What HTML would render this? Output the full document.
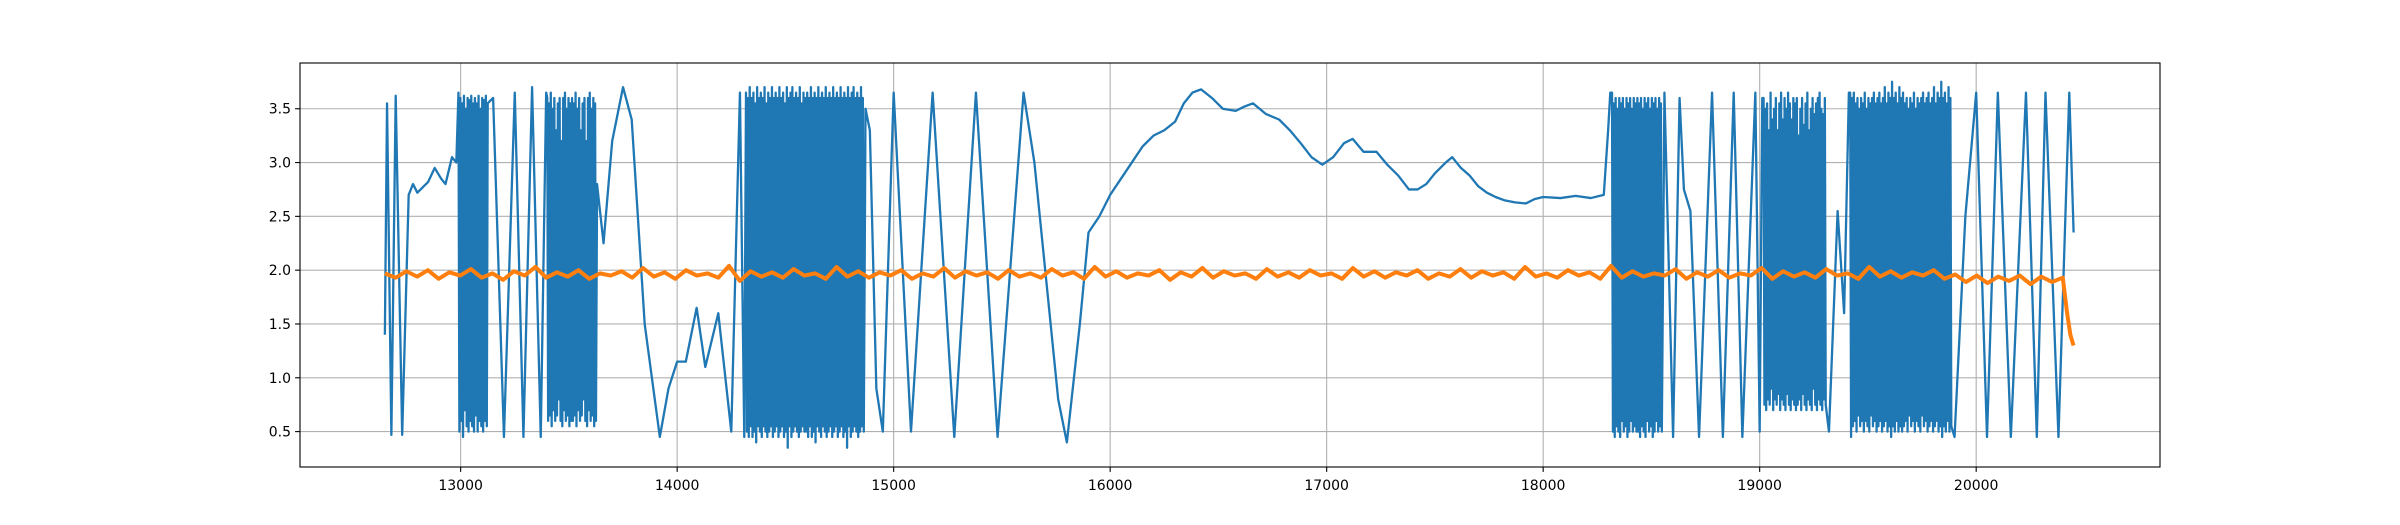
<!DOCTYPE html>
<html><head><meta charset="utf-8">
<style>
html,body{margin:0;padding:0;background:#fff;}
svg{display:block;}
text{font-family:"DejaVu Sans","Liberation Sans",sans-serif;font-size:14px;fill:#000;}
</style></head>
<body>
<svg id="chart" width="2400" height="525" viewBox="0 0 2400 525" xmlns="http://www.w3.org/2000/svg">
<rect x="0" y="0" width="2400" height="525" fill="#fff"/>
<g id="grid"></g>
<g id="series"></g>
<rect x="300" y="63" width="1860" height="404" fill="none" stroke="#000" stroke-width="1.1"/>
<g id="axes"></g>
</svg>
<script>
const xTicks = [13000,14000,15000,16000,17000,18000,19000,20000];
const xTickLabels = ["13000","14000","15000","16000","17000","18000","19000","20000"];
const yTicks = [0.5,1.0,1.5,2.0,2.5,3.0,3.5];
const yTickLabels = ["0.5","1.0","1.5","2.0","2.5","3.0","3.5"];

const blueSparse = [
[12650,1.4],[12660,3.55],[12680,0.47],[12700,3.62],[12730,0.47],[12760,2.7],[12780,2.8],[12800,2.72],[12830,2.78],[12850,2.82],[12880,2.95],[12910,2.85],[12930,2.8],[12960,3.05],[12980,3.0],
[13150,3.6],[13200,0.45],[13250,3.65],[13290,0.45],[13330,3.7],[13370,0.45],[13395,3.65],
[13630,2.8],[13660,2.25],[13700,3.2],[13750,3.7],[13790,3.4],[13850,1.5],[13920,0.45],[13960,0.9],[14000,1.15],[14040,1.15],[14090,1.65],[14130,1.1],[14190,1.6],[14250,0.5],[14290,3.65],[14310,0.45],
[14870,3.5],[14890,3.3],[14920,0.9],[14950,0.5],[15000,3.65],[15080,0.5],[15180,3.65],[15280,0.45],[15380,3.65],[15480,0.45],[15600,3.65],[15650,3.0],[15700,2.0],[15760,0.8],[15800,0.4],[15860,1.5],[15900,2.35],[15950,2.5],[16000,2.7],[16050,2.85],[16100,3.0],[16150,3.15],[16200,3.25],[16250,3.3],[16300,3.38],[16340,3.55],[16380,3.65],[16420,3.68],[16470,3.6],[16520,3.5],[16580,3.48],[16620,3.52],[16660,3.55],[16720,3.45],[16780,3.4],[16830,3.3],[16880,3.18],[16930,3.05],[16980,2.98],[17030,3.05],[17080,3.18],[17120,3.22],[17170,3.1],[17230,3.1],[17280,2.98],[17330,2.88],[17380,2.75],[17420,2.75],[17460,2.8],[17500,2.9],[17550,3.0],[17580,3.05],[17620,2.95],[17660,2.88],[17700,2.78],[17740,2.72],[17780,2.68],[17820,2.65],[17870,2.63],[17920,2.62],[17960,2.66],[18000,2.68],[18080,2.67],[18150,2.69],[18220,2.67],[18280,2.7],[18300,3.3],[18310,3.65],
[18560,3.65],[18600,0.45],[18630,3.6],[18650,2.75],[18680,2.55],[18720,0.45],[18780,3.65],[18830,0.45],[18880,3.65],[18920,0.45],[18980,3.65],[19000,0.5],[19012,3.6],
[19320,0.5],[19360,2.55],[19390,1.6],[19412,3.65],
[19900,0.45],[19950,2.5],[20000,3.65],[20050,0.45],[20100,3.65],[20160,0.45],[20230,3.65],[20280,0.45],[20320,3.65],[20380,0.45],[20430,3.65],[20450,2.35]
];
const denseStarts = [12990,13400,14318,18318,19018,19418];
const denseEnds = [13125,13625,14862,18548,19305,19885];
const denseA = [3.65,0.5,3.6,0.6,3.55,0.45,3.62,0.7,3.5,0.55,3.6,0.5,3.58,0.6,3.62,0.55,3.55,0.5,3.6,0.65,3.55,0.5,3.62,0.6,3.5,0.55,3.6,0.5,3.58,0.6,3.62,0.55,3.55];
const denseB = [3.6,0.6,3.55,0.65,3.65,0.55,3.5,0.7,3.6,0.6,3.3,0.65,3.55,0.8,3.6,0.6,3.2,0.55,3.6,0.7,3.65,0.6,3.5,0.65,3.6,0.55,3.55,0.6,3.6,0.6,3.55,0.65,3.65,0.55,3.5,0.7,3.6,0.6,3.3,0.65,3.55,0.8,3.6,0.6,3.2,0.55,3.6,0.7,3.65,0.6,3.5,0.65,3.6,0.55,3.55,0.6];
const denseC = [3.65,0.5,3.6,0.45,3.7,0.55,3.6,0.45,3.65,0.5,3.55,0.4,3.7,0.55,3.6,0.5,3.65,0.45,3.6,0.55,3.7,0.5,3.55,0.45,3.65,0.5,3.6,0.55,3.7,0.45,3.6,0.5,3.65,0.55,3.6,0.45,3.7,0.5,3.6,0.55,3.65,0.45,3.55,0.5,3.7,0.35,3.6,0.55,3.65,0.45,3.7,0.5,3.6,0.55,3.65,0.5,3.6,0.45,3.7,0.5,3.55,0.55,3.65,0.5,
3.6,0.5,3.65,0.45,3.6,0.55,3.7,0.45,3.6,0.5,3.65,0.4,3.6,0.55,3.7,0.5,3.6,0.45,3.65,0.55,3.6,0.5,3.7,0.45,3.6,0.5,3.65,0.55,3.6,0.45,3.7,0.5,3.6,0.55,3.65,0.45,3.6,0.5,3.7,0.55,3.6,0.45,3.65,0.5,3.6,0.35,3.7,0.55,3.6,0.45,3.65,0.5,3.7,0.55,3.6,0.5,3.65,0.45,3.6,0.5,3.7,0.55,3.6,0.5];
const denseD = [3.65,0.5,3.55,0.45,3.6,0.55,3.5,0.5,3.6,0.45,3.55,0.6,3.6,0.5,3.5,0.55,3.6,0.45,3.55,0.5,3.6,0.6,3.5,0.5,3.6,0.55,3.55,0.5,3.6,0.5,3.55,0.45,3.6,0.55,3.5,0.5,3.6,0.45,3.55,0.6,3.6,0.5,3.5,0.55,3.6,0.45,3.55,0.5,3.6,0.6,3.5,0.5,3.6,0.55,3.55,0.5];
const denseE = [3.6,0.75,3.5,0.7,3.55,0.8,3.3,0.75,3.65,0.9,3.4,0.7,3.5,0.8,3.6,0.75,3.3,0.85,3.55,0.7,3.65,0.8,3.4,0.75,3.6,0.7,3.5,0.85,3.65,0.75,3.55,0.7,3.4,0.8,3.6,0.75,
3.55,0.7,3.6,0.75,3.25,0.8,3.5,0.7,3.6,0.85,3.35,0.75,3.55,0.7,3.65,0.8,3.3,0.75,3.5,0.7,3.6,0.9,3.45,0.75,3.55,0.7,3.6,0.8,3.65,0.75,3.5,0.7,3.45,0.8,3.6,0.75];
const denseF = [3.65,0.45,3.6,0.55,3.65,0.6,3.55,0.5,3.6,0.65,3.5,0.55,3.6,0.6,3.55,0.5,3.65,0.6,3.5,0.55,3.6,0.5,3.55,0.65,3.6,0.55,3.65,0.6,3.55,0.5,3.6,0.55,3.65,0.6,3.55,0.5,3.6,0.55,3.7,0.6,3.55,0.5,3.65,0.55,3.6,0.45,3.75,0.55,3.6,0.5,3.65,0.6,3.55,0.5,3.7,0.55,
3.6,0.5,3.65,0.55,3.55,0.6,3.6,0.5,3.5,0.65,3.6,0.55,3.55,0.6,3.65,0.5,3.5,0.6,3.6,0.55,3.55,0.5,3.6,0.65,3.65,0.55,3.55,0.6,3.6,0.5,3.65,0.55,3.55,0.6,3.6,0.5,3.7,0.55,3.55,0.6,3.65,0.5,3.6,0.55,3.75,0.45,3.6,0.55,3.65,0.5,3.55,0.6,3.7,0.5,3.6,0.55];
const denseBlocks = [denseA,denseB,denseC,denseD,denseE,denseF];

const orangeStart = 12650;
const orangeEnd = 20400;
const orangeY = [1.97,1.93,1.99,1.94,2.0,1.92,1.98,1.95,2.01,1.93,1.97,1.91,1.99,1.95,2.03,1.93,1.98,1.94,2.0,1.92,1.97,1.95,1.99,1.93,2.02,1.94,1.98,1.92,2.0,1.95,1.97,1.93,2.04,1.9,1.99,1.94,1.98,1.93,2.01,1.95,1.97,1.92,2.03,1.94,1.99,1.93,1.98,1.95,2.0,1.92,1.97,1.94,2.02,1.93,1.99,1.95,1.98,1.92,2.0,1.94,1.97,1.93,2.01,1.95,1.98,1.92,2.03,1.94,1.99,1.93,1.97,1.95,2.0,1.91,1.98,1.94,2.02,1.93,1.99,1.95,1.97,1.92,2.01,1.94,1.98,1.93,2.0,1.95,1.97,1.92,2.02,1.94,1.99,1.93,1.98,1.95,2.0,1.92,1.97,1.94,2.01,1.93,1.99,1.95,1.98,1.92,2.03,1.94,1.97,1.93,2.0,1.95,1.98,1.92,2.04,1.93,1.99,1.94,1.97,1.95,2.01,1.92,1.98,1.94,2.0,1.93,1.97,1.95,2.02,1.92,1.99,1.94,1.98,1.93,2.01,1.95,1.97,1.92,2.03,1.94,1.99,1.93,1.98,1.95,2.0,1.92,1.96,1.89,1.95,1.88,1.94,1.9,1.95,1.87,1.94,1.89,1.93];
const orangeTailX = [20420,20435,20445,20450];
const orangeTailY = [1.6,1.4,1.33,1.3];

const X0=300, X1=2160, Y0=63, Y1=467;
const xMin=12258, xMax=20849, yMin=0.171, yMax=3.925;
const sx = v => X0 + (v-xMin)/(xMax-xMin)*(X1-X0);
const sy = v => Y1 - (v-yMin)/(yMax-yMin)*(Y1-Y0);
const NS='http://www.w3.org/2000/svg';
const grid=document.getElementById('grid'), axes=document.getElementById('axes'), series=document.getElementById('series');
function mk(tag,attrs,parent){const e=document.createElementNS(NS,tag);for(const k in attrs)e.setAttribute(k,attrs[k]);parent.appendChild(e);return e;}

xTicks.forEach((t,i)=>{
  const x=sx(t);
  const g=mk('line',{x1:x,x2:x,y1:Y0,y2:Y1,stroke:'#b0b0b0','stroke-width':1.1},grid);
  
  
  const tk=mk('line',{x1:x,x2:x,y1:Y1,y2:Y1+4.9,stroke:'#000','stroke-width':1.1},axes);
  
  
  const tx=mk('text',{x:x,y:Y1+23,'text-anchor':'middle'},axes);
  tx.textContent=xTickLabels[i];
  
  
});
yTicks.forEach((t,i)=>{
  const y=sy(t);
  const g=mk('line',{x1:X0,x2:X1,y1:y,y2:y,stroke:'#b0b0b0','stroke-width':1.1},grid);
  
  
  const tk=mk('line',{x1:X0-4.9,x2:X0,y1:y,y2:y,stroke:'#000','stroke-width':1.1},axes);
  
  
  const tx=mk('text',{x:X0-9,y:y+5,'text-anchor':'end'},axes);
  tx.textContent=yTickLabels[i];
  
  
});

let bluePts = blueSparse.map(p=>[p[0],p[1]]);
denseBlocks.forEach((vals,bi)=>{
  const st=(denseEnds[bi]-denseStarts[bi])/(vals.length-1);
  vals.forEach((v,j)=>bluePts.push([denseStarts[bi]+j*st,v]));
});
bluePts.sort((a,b)=>a[0]-b[0]);
const bp=mk('path',{d:bluePts.map((p,i)=>(i?'L':'M')+sx(p[0]).toFixed(2)+','+sy(p[1]).toFixed(2)).join(''),fill:'none',stroke:'#1f77b4','stroke-width':2.3,'stroke-linejoin':'round'},series);



const oStep=(orangeEnd-orangeStart)/(orangeY.length-1);
let orPts = orangeY.map((v,i)=>[orangeStart+i*oStep,v]);
orangeTailX.forEach((x,i)=>orPts.push([x,orangeTailY[i]]));
const op=mk('path',{d:orPts.map((p,i)=>(i?'L':'M')+sx(p[0]).toFixed(2)+','+sy(p[1]).toFixed(2)).join(''),fill:'none',stroke:'#ff7f0e','stroke-width':4,'stroke-linejoin':'round'},series);


</script>
</body></html>
